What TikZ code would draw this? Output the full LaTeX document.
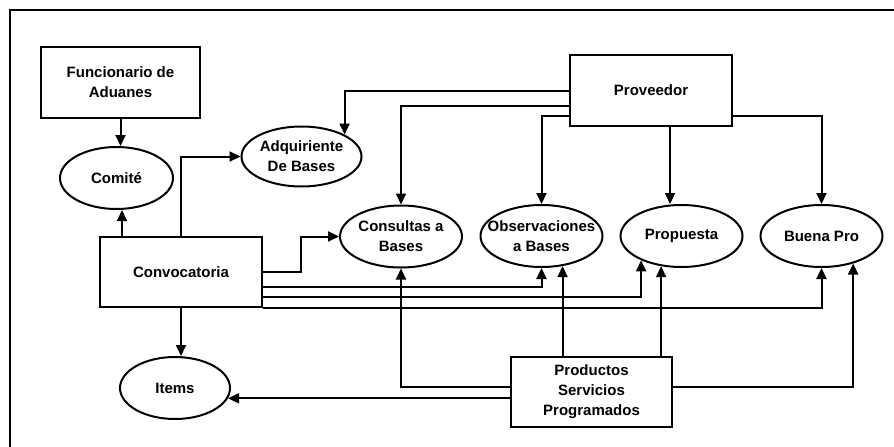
\documentclass[tikz,border=0pt]{standalone}
\usepackage{fontspec}
\setmainfont{Liberation Sans}
\usetikzlibrary{arrows.meta,shapes.geometric}
\tikzset{
  lw/.style={line width=2pt},
  box/.style={draw,lw,rectangle,inner sep=0pt,align=center,font=\fontsize{15}{20}\selectfont\bfseries},
  ell/.style={draw,lw,ellipse,inner sep=0pt},
  txt/.style={align=center,font=\fontsize{15}{20}\selectfont\bfseries,inner sep=0pt},
  arr/.style={lw,-{Triangle[length=11pt,width=10pt]}},
}
\begin{document}
\begin{tikzpicture}[x=1pt,y=-1pt]
\useasboundingbox (0,0) rectangle (894,447);
\fill[white] (0,0) rectangle (894,447);
% frame
\draw[line width=2pt] (10,447) -- (10,10) -- (894,10);
% boxes
\node[box,minimum width=159pt,minimum height=71pt] (func) at (120.5,82.5) {Funcionario de\\Aduanes};
\node[box,minimum width=162pt,minimum height=71pt] (prov) at (651,90.5) {Proveedor};
\node[box,minimum width=162pt,minimum height=70pt] (conv) at (181,272) {Convocatoria};
\node[box,minimum width=161pt,minimum height=70pt] (prod) at (591.5,392) {Productos\\Servicios\\Programados};
% ellipses
\node[ell,minimum width=113pt,minimum height=62pt,label={[txt]center:Comité}] (com) at (116.5,178) {};
\node[ell,minimum width=120pt,minimum height=60pt,label={[txt]center:Adquiriente\\De Bases}] (adq) at (301.5,156.5) {};
\node[ell,minimum width=122pt,minimum height=62pt,label={[txt]center:Consultas a\\Bases}] (cons) at (401,236.5) {};
\node[ell,minimum width=122pt,minimum height=62pt,label={[txt]center:Observaciones\\a Bases}] (obs) at (541.5,236) {};
\node[ell,minimum width=122pt,minimum height=62pt,label={[txt]center:Propuesta}] (prop) at (681.5,236) {};
\node[ell,minimum width=122pt,minimum height=62pt,label={[txt]center:Buena Pro}] (bp) at (821.5,236) {};
\node[ell,minimum width=110pt,minimum height=62pt,label={[txt]center:Items}] (items) at (175,388) {};
% connectors
\draw[arr] (func.south) -- (func.south |- com.north);
\draw[arr] ([xshift=-59pt]conv.north) -- ([xshift=-59pt]conv.north |- com.south);
\draw[arr] (conv.north) |- (adq.west);
\draw[arr] (prov.west) -| (adq.27);
\draw[arr] ([yshift=-15.5pt]prov.west) -| (cons.north);
\draw[arr] ([yshift=-25.5pt]prov.west) -| (obs.north);
\draw[arr] ([xshift=19pt]prov.south) -- ([xshift=19pt]prov.south |- prop.north);
\draw[arr] ([yshift=-25.5pt]prov.east) -| (bp.north);
\draw[arr] (conv.east) -- ++(38,0) |- (cons.west);
\draw[arr] ([yshift=-15pt]conv.east) -| (obs.south);
\draw[arr] ([yshift=-25pt]conv.east) -| (prop.211);
\draw[arr] (conv.south east) -| (bp.south);
\draw[arr] (conv.south) -- (conv.south |- items.north);
\draw[arr] ([yshift=5pt]prod.west) -| (cons.south);
\draw[arr] (prod.west |- items.-11) -- (items.-11);
\draw[arr] (obs.-55 |- prod.north) -- (obs.-55);
\draw[arr] (prop.236 |- prod.north) -- (prop.236);
\draw[arr] ([yshift=5pt]prod.east) -| (bp.-41);
\end{tikzpicture}
\end{document}
